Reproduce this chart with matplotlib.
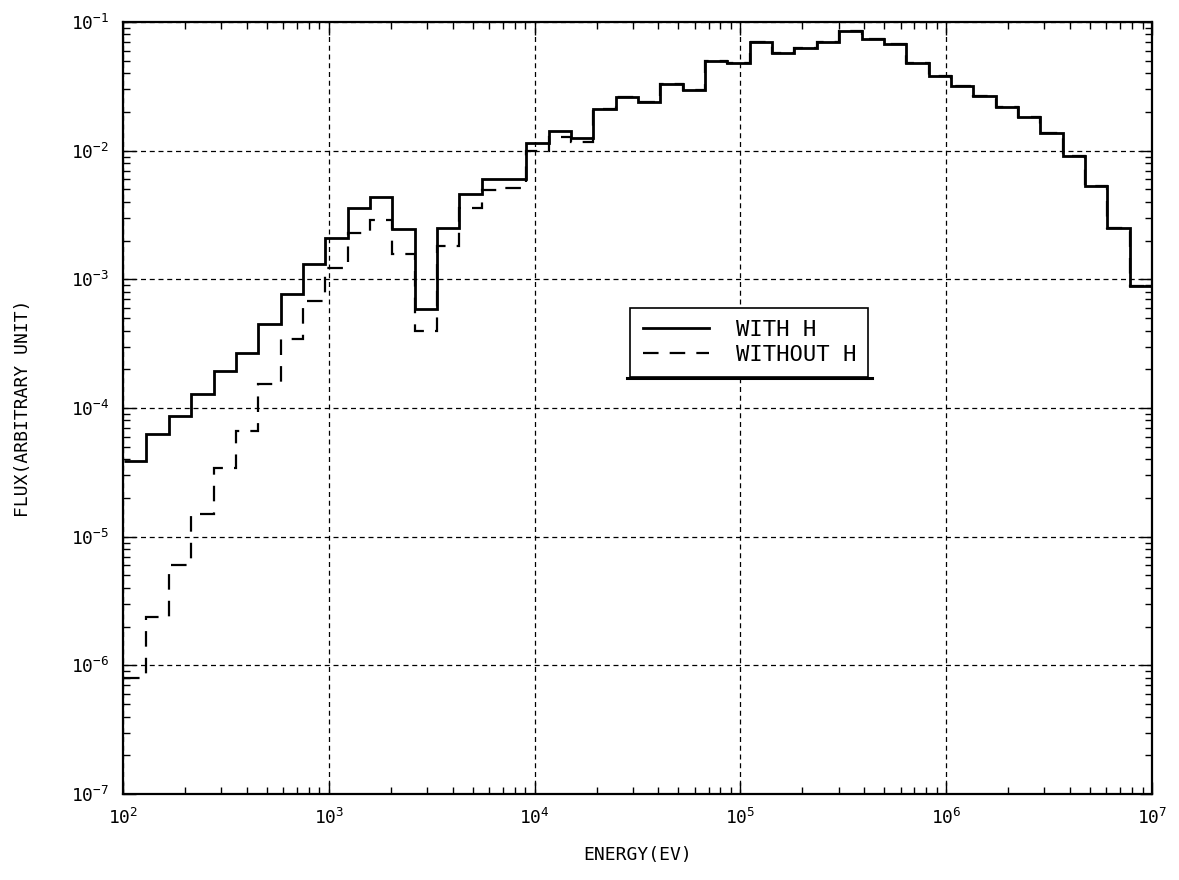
import numpy as np
import matplotlib.pyplot as plt
from matplotlib.ticker import LogLocator, NullFormatter

# group structure: lethargy width 0.25 below 10 MeV
e_top = 1.0e7
du = 0.25
n_groups = 46
edges = e_top * np.exp(-du * np.arange(n_groups, -1, -1))

flux_with_h = [
    3.9e-5, 6.3e-5, 8.7e-5, 1.28e-4, 1.94e-4, 2.69e-4, 4.46e-4, 7.7e-4,
    1.31e-3, 2.08e-3, 3.56e-3, 4.39e-3, 2.44e-3, 5.83e-4, 2.51e-3, 4.60e-3,
    6.0e-3, 6.0e-3, 1.14e-2, 1.42e-2, 1.26e-2, 2.10e-2, 2.62e-2, 2.40e-2,
    3.27e-2, 2.96e-2, 5.0e-2, 4.78e-2, 6.95e-2, 5.77e-2, 6.31e-2, 7.03e-2,
    8.51e-2, 7.33e-2, 6.71e-2, 4.80e-2, 3.78e-2, 3.19e-2, 2.67e-2, 2.19e-2,
    1.84e-2, 1.36e-2, 9.1e-3, 5.33e-3, 2.49e-3, 8.85e-4,
]

flux_without_h = [
    8.0e-7, 2.38e-6, 6.0e-6, 1.49e-5, 3.42e-5, 6.64e-5, 1.55e-4, 3.43e-4,
    6.8e-4, 1.23e-3, 2.28e-3, 2.88e-3, 1.56e-3, 3.95e-4, 1.81e-3, 3.56e-3,
    4.94e-3, 5.09e-3, 1.0e-2, 1.28e-2, 1.17e-2,
] + flux_with_h[21:]

plt.rcParams['font.family'] = ['DejaVu Sans Mono']

fig = plt.figure(figsize=(11.79, 8.80), dpi=100)
ax = fig.add_axes([0.1043, 0.0977, 0.8728, 0.8773])

ax.stairs(flux_without_h, edges, baseline=None, color='black', lw=1.6,
          linestyle=(0, (7, 5)), label='WITHOUT H')
ax.stairs(flux_with_h, edges, baseline=None, color='black', lw=2.0,
          label='WITH H')

ax.set_xscale('log')
ax.set_yscale('log')
ax.set_xlim(1e2, 1e7)
ax.set_ylim(1e-7, 1e-1)

ax.xaxis.set_major_locator(LogLocator(base=10, numticks=10))
ax.yaxis.set_major_locator(LogLocator(base=10, numticks=10))
ax.xaxis.set_minor_locator(LogLocator(base=10, subs=np.arange(2, 10), numticks=20))
ax.yaxis.set_minor_locator(LogLocator(base=10, subs=np.arange(2, 10), numticks=20))
ax.xaxis.set_minor_formatter(NullFormatter())
ax.yaxis.set_minor_formatter(NullFormatter())

ax.tick_params(which='both', direction='in', top=True, right=True,
               labelsize=13, width=1.0, color='black')
ax.tick_params(which='major', length=9, pad=10)
ax.tick_params(which='minor', length=5)

ax.grid(True, which='major', color='black', linestyle=(0, (4, 3)), lw=0.9)
for s in ax.spines.values():
    s.set_linewidth(1.6)

ax.set_xlabel('ENERGY(EV)', fontsize=13, labelpad=13)
ax.set_ylabel('FLUX(ARBITRARY UNIT)', fontsize=13, labelpad=28)

handles, labels = ax.get_legend_handles_labels()
leg = ax.legend(handles[::-1], labels[::-1], loc='upper left',
                bbox_to_anchor=(0.493, 0.6295), borderaxespad=0,
                fontsize=16, frameon=True, fancybox=False, framealpha=1,
                edgecolor='black', handlelength=3.0, borderpad=0.55,
                handletextpad=1.2, labelspacing=0.2)
leg.get_frame().set_linewidth(1.2)

# heavy underline below the legend box, as in the original plot
fig.canvas.draw()
bb = leg.get_window_extent().transformed(ax.transAxes.inverted())
ax.plot([bb.x0 - 0.003, bb.x1 + 0.003], [bb.y0 - 0.002, bb.y0 - 0.002],
        transform=ax.transAxes, color='black', lw=2.2, clip_on=False)

fig.savefig('out.png', dpi=100, facecolor='white')
